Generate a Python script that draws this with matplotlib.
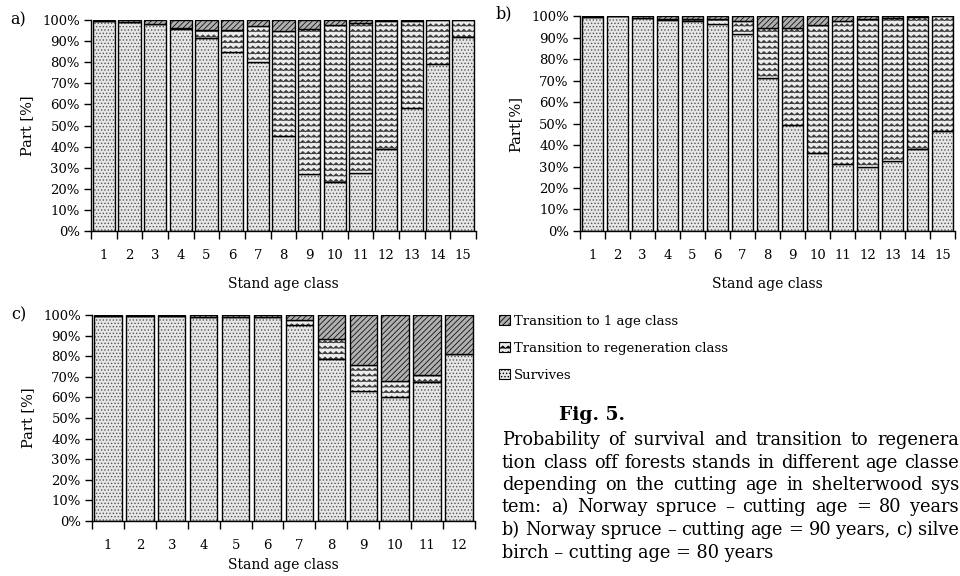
import numpy as np
import matplotlib
matplotlib.use("Agg")
import matplotlib.pyplot as plt
from matplotlib import hatch as mhatch
from matplotlib.path import Path
from matplotlib.patches import Patch

plt.rcParams['font.family'] = ['DejaVu Serif']
plt.rcParams['hatch.linewidth'] = 0.6

# --- data (percent of stands) ---
classes_a = [str(i) for i in range(1, 16)]
a_survives = [99.5, 99, 98, 96, 91.5, 85, 80, 45, 27, 23, 27.5, 39, 58.5, 79, 92]
a_regen = [0, 0, 0.3, 0.5, 4, 10.5, 17, 50, 69, 74.5, 71, 60.5, 41.2, 21, 8]
a_trans1 = [0.5, 1, 1.7, 3.5, 4.5, 4.5, 3, 5, 4, 2.5, 1.5, 0.5, 0.3, 0, 0]

classes_b = [str(i) for i in range(1, 16)]
b_survives = [99.5, 100, 99, 98, 97.5, 96.5, 91.5, 71, 49.5, 36.5, 31, 30, 32.5, 38, 46.5]
b_regen = [0, 0, 0, 0.5, 1, 2, 6, 23.5, 45, 59.5, 66.5, 68.5, 66.5, 61.5, 53.5]
b_trans1 = [0.5, 0, 1, 1.5, 1.5, 1.5, 2.5, 5.5, 5.5, 4, 2.5, 1.5, 1, 0.5, 0]

classes_c = [str(i) for i in range(1, 13)]
c_survives = [99.5, 99.5, 99.3, 99.2, 99, 98.8, 95, 78.5, 63, 60, 67.5, 81]
c_regen = [0, 0, 0, 0, 0, 0, 2.5, 10, 12.5, 8, 3.5, 0]
c_trans1 = [0.5, 0.5, 0.7, 0.8, 1, 1.2, 2.5, 11.5, 24.5, 32, 29, 19]

series_names = ['Survives', 'Transition to regeneration class', 'Transition to 1 age class']

# caption as visible on the (cropped) page
caption_lines = [
    "Probability of survival and transition to regenera",
    "tion class off forests stands in different age classe",
    "depending on  the  cutting age in shelterwood sys",
    "tem: a) Norway spruce \u2013 cutting age = 80 years",
    "b) Norway spruce \u2013 cutting age = 90 years, c) silve",
    "birch \u2013 cutting age = 80 years",
]


# wavy hatch ('~'), matplotlib has none built in
class WaveHatch(mhatch.HatchPatternBase):
    def __init__(self, hatch, density):
        self.num_rows = hatch.count('~') * density
        self.pts = 2 * self.num_rows + 1
        self.num_vertices = self.num_rows * self.pts

    def set_vertices_and_codes(self, vertices, codes):
        if self.num_rows == 0:
            return
        xs = np.linspace(0, 1, self.pts)
        amp = 0.22 / self.num_rows
        offs = np.where(np.arange(self.pts) % 2 == 0, -amp, amp)
        ys = (np.arange(self.num_rows) + 0.5) / self.num_rows
        v = np.empty((self.num_rows, self.pts, 2))
        v[:, :, 0] = xs
        v[:, :, 1] = ys[:, None] + offs
        vertices[:] = v.reshape(-1, 2)
        c = np.full((self.num_rows, self.pts), Path.LINETO, dtype=codes.dtype)
        c[:, 0] = Path.MOVETO
        codes[:] = c.ravel()


mhatch._hatch_types.append(WaveHatch)
mhatch._validate_hatch_pattern = lambda hatch: None

styles = [
    dict(face='#e6e6e6', hatch='.....', hcol='#555555'),
    dict(face='#ececec', hatch='~~~', hcol='#3a3a3a'),
    dict(face='#b0b0b0', hatch='//////', hcol='#111111'),
]


def draw_panel(ax, classes, survives, regen, trans1, letter, ylabel, xlabelpad=11):
    x = np.arange(len(classes))
    width = 0.86
    bottom = np.zeros(len(classes))
    for vals, st in zip([survives, regen, trans1], styles):
        vals = np.array(vals, dtype=float)
        ax.bar(x, vals, width, bottom=bottom, color=st['face'], hatch=st['hatch'],
               edgecolor=st['hcol'], linewidth=0)
        ax.bar(x, vals, width, bottom=bottom, fill=False, edgecolor='black', linewidth=1.0)
        bottom += vals

    ax.set_xlim(-0.5, len(classes) - 0.5)
    ax.set_ylim(0, 100)
    ax.set_yticks(np.arange(0, 101, 10))
    ax.set_yticklabels([f"{v}%" for v in range(0, 101, 10)], fontsize=9.5)
    ax.set_xticks(np.arange(len(classes) + 1) - 0.5)
    ax.set_xticklabels([])
    ax.set_xticks(x, minor=True)
    ax.set_xticklabels(classes, minor=True, fontsize=9.5)
    ax.tick_params(axis='x', which='major', direction='out', length=6, width=1)
    ax.tick_params(axis='x', which='minor', length=0, pad=13)
    ax.tick_params(axis='y', direction='out', length=5, width=1, pad=3)
    for s in ['top', 'right']:
        ax.spines[s].set_visible(False)
    for s in ['left', 'bottom']:
        ax.spines[s].set_linewidth(1.0)
    ax.set_xlabel('Stand age class', fontsize=10, labelpad=xlabelpad)
    ax.set_ylabel(ylabel, fontsize=10.5, labelpad=6)
    return ax.text(0, 1.0, letter, transform=ax.transAxes, fontsize=11.5,
                   va='center', ha='left')


fig = plt.figure(figsize=(9.6, 5.76), dpi=100)

ax_a = fig.add_axes([0.0948, 0.599, 0.401, 0.366])
ax_b = fig.add_axes([0.604, 0.599, 0.391, 0.373])
ax_c = fig.add_axes([0.0958, 0.0955, 0.399, 0.3576])

t = draw_panel(ax_a, classes_a, a_survives, a_regen, a_trans1, 'a)', 'Part [%]')
t.set_position((-0.21, 1.0))
t = draw_panel(ax_b, classes_b, b_survives, b_regen, b_trans1, 'b)', 'Part[%]')
t.set_position((-0.225, 1.01))
t = draw_panel(ax_c, classes_c, c_survives, c_regen, c_trans1, 'c)', 'Part [%]',
               xlabelpad=4)
t.set_position((-0.21, 1.0))

# legend (top entry first, as in the stacked order)
handles = [Patch(facecolor=st['face'], hatch=st['hatch'], edgecolor='black', linewidth=0.8)
           for st in styles][::-1]
fig.legend(handles, series_names[::-1], loc='upper left',
           bbox_to_anchor=(499 / 960, 1 - 315 / 576), frameon=False,
           handlelength=0.8, handleheight=0.8, handletextpad=0.35,
           labelspacing=1.05, borderpad=0, borderaxespad=0, fontsize=9.5)

fig.text(559 / 960, 1 - 415 / 576, 'Fig. 5.', fontsize=13.5, fontweight='bold',
         ha='left', va='center')

# justified caption
renderer = fig.canvas.get_renderer()
x0, x1 = 502, 959
line_y = [440, 462.5, 485, 507.5, 530, 552.5]
for i, (line, ly) in enumerate(zip(caption_lines, line_y)):
    words = line.split()
    y = 1 - ly / 576
    if i == len(caption_lines) - 1:
        fig.text(x0 / 960, y, line, fontsize=12.8, ha='left', va='center')
        continue
    objs = [fig.text(0, y, w, fontsize=12.8, ha='left', va='center') for w in words]
    widths = [o.get_window_extent(renderer).width for o in objs]
    gap = (x1 - x0 - sum(widths)) / (len(words) - 1)
    pos = x0
    for o, w in zip(objs, widths):
        o.set_x(pos / 960)
        pos += w + gap

fig.savefig('out.png', dpi=100)
